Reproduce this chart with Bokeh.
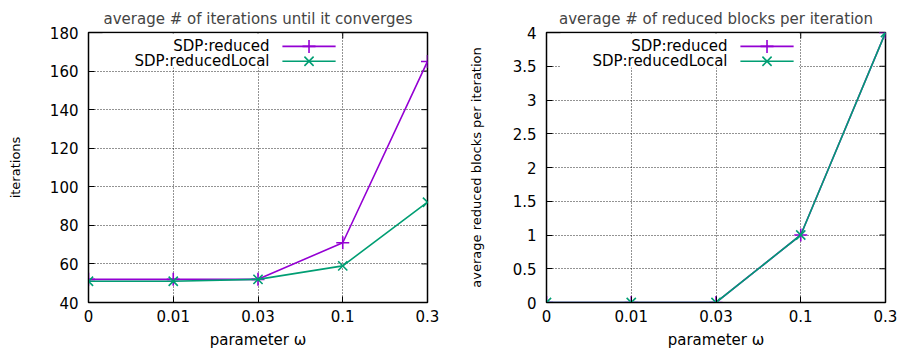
from bokeh.plotting import figure
from bokeh.layouts import row
from bokeh.models import Range1d, FixedTicker, CustomJSTickFormatter
from bokeh.core.properties import value
from bokeh.embed import file_html
from bokeh.resources import INLINE

# ---- data ----
x_labels = ["0", "0.01", "0.03", "0.1", "0.3"]
iters_reduced = [52, 52, 52, 71, 165]
iters_reduced_local = [51, 51, 52, 59, 92]
blocks_reduced = [0, 0, 0, 1, 4]
blocks_reduced_local = [0, 0, 0, 1, 4]
series_names = ["SDP:reduced", "SDP:reducedLocal"]

x_pos = list(range(len(x_labels)))

FONT = "DejaVu Sans"
PURPLE = "#9400D3"
GREEN = "#009E73"
H = 351
TOP, BOTTOM = 32, 46


def make_panel(title, ylabel, y_lo, y_hi, y_step, ys_a, ys_b, width, left, right, ylab_standoff, ylab_size):
    p = figure(width=width, height=H, output_backend="svg", toolbar_location=None,
               x_range=Range1d(0, len(x_labels) - 1), y_range=Range1d(y_lo, y_hi),
               min_border_left=left, min_border_right=right,
               min_border_top=TOP, min_border_bottom=BOTTOM)
    p.title.text = title
    p.title.align = "center"
    p.title.text_font = FONT
    p.title.text_font_size = "15px"
    p.title.text_font_style = "normal"
    p.title.standoff = 10
    p.background_fill_color = "white"
    p.border_fill_color = "white"
    p.outline_line_color = "black"
    p.outline_line_width = 1.5

    span = y_hi - y_lo
    nx = len(x_labels) - 1
    frame_w = width - left - right
    frame_h = H - TOP - BOTTOM

    yticks = []
    v = y_lo
    while v <= y_hi + 1e-9:
        yticks.append(round(v, 6))
        v += y_step
    fmt = CustomJSTickFormatter(code="return String(Math.round(tick*1000)/1000);")

    xa = p.xaxis[0]
    xa.ticker = FixedTicker(ticks=x_pos)
    xa.major_label_overrides = {i: s for i, s in enumerate(x_labels)}
    xa.axis_label = "parameter \u03c9"
    ya = p.yaxis[0]
    ya.ticker = FixedTicker(ticks=yticks)
    ya.formatter = fmt
    ya.axis_label = ylabel
    ya.axis_label_standoff = ylab_standoff
    ya.axis_label_text_font_size = ylab_size
    xa.axis_label_standoff = 6
    xa.axis_label_text_font_size = "15px"
    for ax in (xa, ya):
        ax.major_label_text_font = FONT
        ax.major_label_text_font_size = "15px"
        ax.axis_label_text_font = FONT
        ax.axis_label_text_font_style = "normal"
        ax.major_tick_in = 6
        ax.major_tick_out = 0
        ax.minor_tick_line_color = None
        ax.axis_line_color = "black"
        ax.major_tick_line_color = "black"
        ax.major_label_text_color = "black"
        ax.axis_label_text_color = "black"
    xa.major_label_standoff = 7
    ya.major_label_standoff = 10

    for g in (p.xgrid[0], p.ygrid[0]):
        g.grid_line_color = "black"
        g.grid_line_dash = "1 2"
        g.grid_line_width = 1
        g.grid_line_alpha = 0.85
    p.xgrid[0].ticker = FixedTicker(ticks=x_pos)
    p.ygrid[0].ticker = FixedTicker(ticks=yticks)

    # mirrored inward ticks on top and right borders
    dy = 6.0 / frame_h * span
    dx = 6.0 / frame_w * nx
    p.segment(x0=x_pos, y0=[y_hi] * len(x_pos), x1=x_pos, y1=[y_hi - dy] * len(x_pos),
              line_color="black", line_width=1)
    p.segment(x0=[nx] * len(yticks), y0=yticks, x1=[nx - dx] * len(yticks), y1=yticks,
              line_color="black", line_width=1)

    # legend (gnuplot style: label right-aligned, sample to its right)
    p.quad(left=[0.165], right=[2.98], top=[y_hi - 0.004 * span], bottom=[y_hi - 0.13 * span],
           fill_color="white", line_color=None)
    row_y = [y_hi - 0.0515 * span, y_hi - 0.1066 * span]
    text_x = 0.534 * nx
    s0, s1 = 0.572 * nx, 0.729 * nx
    colors = [PURPLE, GREEN]
    markers = ["cross", "x"]
    for i in range(2):
        p.text(x=[text_x], y=[row_y[i]], text=[series_names[i]], text_align="right",
               text_baseline="middle", text_font=value(FONT), text_font_size="15px",
               text_color="black")
        p.line(x=[s0, s1], y=[row_y[i], row_y[i]], line_color=colors[i], line_width=1.6)
        p.scatter(x=[(s0 + s1) / 2], y=[row_y[i]], marker=markers[i], size=13,
                  line_color=colors[i], line_width=1.6)

    for ys, c, m in ((ys_a, PURPLE, "cross"), (ys_b, GREEN, "x")):
        p.line(x=x_pos, y=ys, line_color=c, line_width=1.6)
        p.scatter(x=x_pos, y=ys, marker=m, size=13, line_color=c, line_width=1.6)
    return p


p1 = make_panel("average # of iterations until it converges", "iterations",
                40, 180, 20, iters_reduced, iters_reduced_local,
                448, 88, 21, 24, "13px")
p2 = make_panel("average # of reduced blocks per iteration", "average reduced blocks per iteration",
                0, 4, 0.5, blocks_reduced, blocks_reduced_local,
                449, 98, 12, 26, "13px")

layout = row(p1, p2)
open("out.html", "w").write(file_html(layout, INLINE))
